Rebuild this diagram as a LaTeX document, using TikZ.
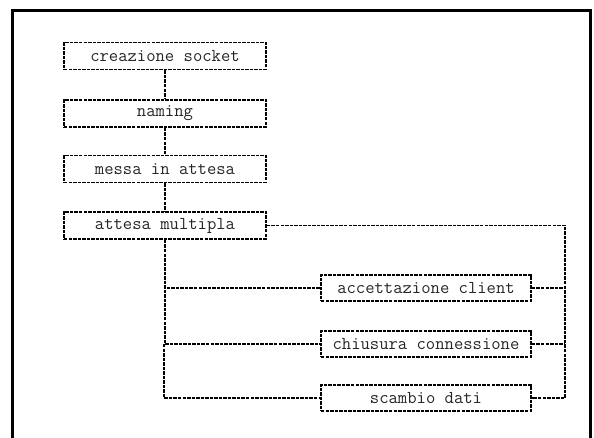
\documentclass[tikz,border=0pt]{standalone}
\begin{document}
\begin{tikzpicture}[x=0.75pt,y=-0.75pt,
  dline/.style={line width=1.4pt, dash pattern=on 2.6pt off 0.8pt},
  sbox/.style={dline, draw, minimum width=202*0.75pt, minimum height=27*0.75pt, inner sep=0pt,
     font=\fontsize{13.6}{16}\selectfont\ttfamily, text=black!85},
  rbox/.style={sbox, minimum width=210*0.75pt, minimum height=26*0.75pt}]
\useasboundingbox (0,0) rectangle (594,438);
\draw[line width=2.4pt] (12.5,440) -- (12.5,10.5) -- (590.5,10.5) -- (590.5,440);
\node[sbox] (cs) at (165,56) {creazione socket};
\node[sbox] (nm) at (165,113.5) {naming};
\node[sbox] (ma) at (165,169) {messa in attesa};
\node[sbox] (am) at (165,225.5) {attesa multipla};
\node[rbox] (ac) at (426,288) {accettazione client};
\node[rbox] (ch) at (426,344) {chiusura connessione};
\node[rbox] (sd) at (426,398) {scambio dati};
\coordinate (R) at (565,0);
\coordinate (L) at (164,0);
\draw[dline] (cs) -- (nm);
\draw[dline] (nm) -- (ma);
\draw[dline] (ma) -- (am);
\draw[dline] (am.south) |- (ac.west);
\draw[dline] (am.south) |- (ch.west);
\draw[dline] (L |- ch.west) |- (sd.west);
\draw[dline] (am.east) -- (am.east -| R) -- (sd.east -| R) -- (sd.east);
\draw[dline] (ac.east) -- (ac.east -| R);
\draw[dline] (ch.east) -- (ch.east -| R);
\end{tikzpicture}
\end{document}
